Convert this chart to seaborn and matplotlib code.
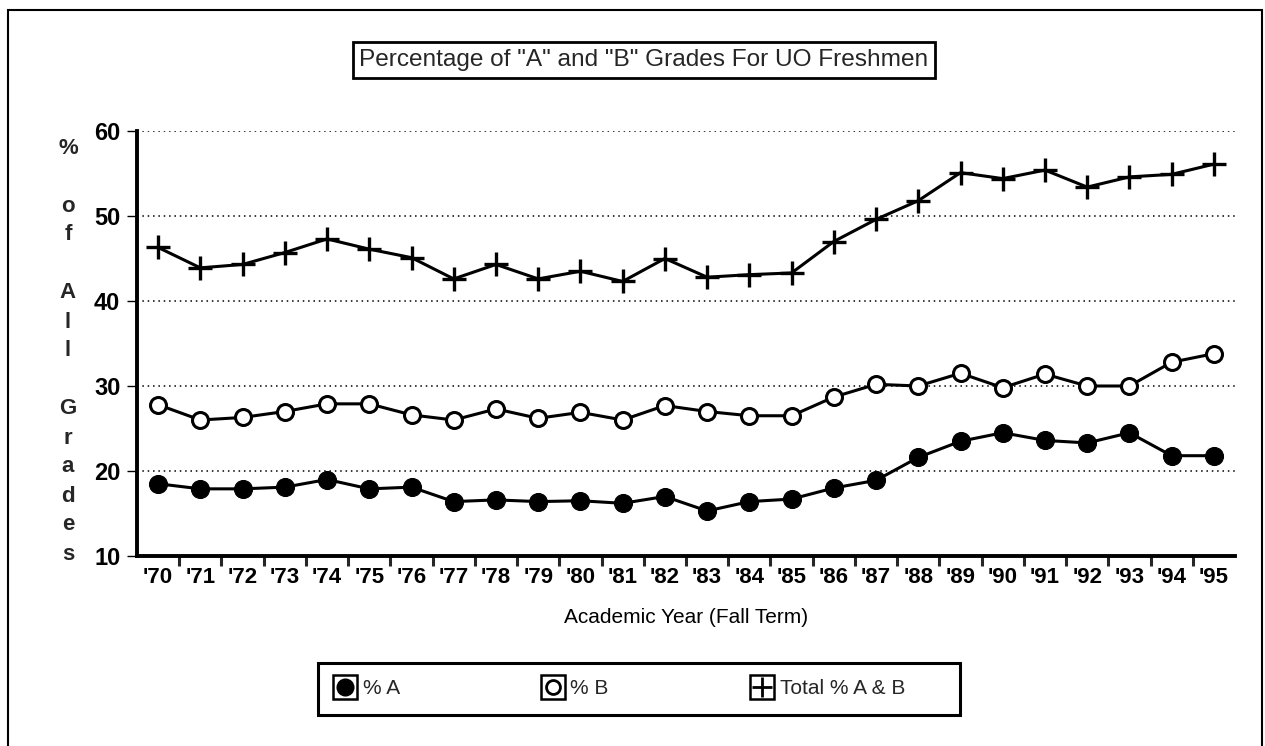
import pandas as pd
import seaborn as sns
import matplotlib.pyplot as plt
from matplotlib.lines import Line2D
from matplotlib.patches import Rectangle
from matplotlib.legend_handler import HandlerTuple

# dati
anni = ["'70", "'71", "'72", "'73", "'74", "'75", "'76", "'77", "'78", "'79",
        "'80", "'81", "'82", "'83", "'84", "'85", "'86", "'87", "'88", "'89",
        "'90", "'91", "'92", "'93", "'94", "'95"]
perc_a = [18.5, 17.9, 17.9, 18.1, 19.0, 17.9, 18.1, 16.4, 16.6, 16.4,
          16.5, 16.2, 17.0, 15.3, 16.4, 16.7, 18.0, 18.9, 21.6, 23.5,
          24.5, 23.6, 23.3, 24.5, 21.8, 21.8]
perc_b = [27.8, 26.0, 26.3, 27.0, 27.9, 27.9, 26.6, 26.0, 27.3, 26.2,
          26.9, 26.0, 27.7, 27.0, 26.5, 26.5, 28.7, 30.2, 30.0, 31.5,
          29.8, 31.4, 30.0, 30.0, 32.8, 33.8]
totale = [46.3, 43.9, 44.3, 45.7, 47.3, 46.1, 45.1, 42.6, 44.3, 42.6,
          43.5, 42.3, 45.0, 42.8, 43.1, 43.3, 47.0, 49.6, 51.8, 55.1,
          54.4, 55.4, 53.4, 54.6, 54.9, 56.1]

df = pd.DataFrame({'anno': anni, 'A': perc_a, 'B': perc_b, 'tot': totale})

sns.set_theme(style="white")
plt.rcParams['font.family'] = ['Liberation Sans', 'DejaVu Sans']

W, H = 1265, 746
fig = plt.figure(figsize=(W / 100, H / 100), dpi=100)
ax = fig.add_axes([137 / W, 1 - 556 / H, 1098 / W, 425 / H])

sns.lineplot(data=df, x='anno', y='A', sort=False, ax=ax, color='black', lw=2.2,
             marker='o', markersize=13, markerfacecolor='black', markeredgecolor='black')
sns.lineplot(data=df, x='anno', y='B', sort=False, ax=ax, color='black', lw=2.2,
             marker='o', markersize=11.5, markerfacecolor='white', markeredgecolor='black',
             markeredgewidth=2.2)
sns.lineplot(data=df, x='anno', y='tot', sort=False, ax=ax, color='black', lw=2.2,
             marker='+', markersize=17, markeredgewidth=2.4, markeredgecolor='black')

ax.set_ylim(10, 60)
ax.set_xlim(-0.5, len(anni) - 0.5)
ax.set_yticks([10, 20, 30, 40, 50, 60])
ax.set_xticks(range(len(anni)))
ax.set_xticklabels(anni)
ax.set_xticks([i + 0.5 for i in range(len(anni) - 1)], minor=True)

for y in [20, 30, 40, 50, 60]:
    ax.axhline(y, color='black', lw=1.1, ls=(0, (1, 2.5)), zorder=0)

for s in ['top', 'right']:
    ax.spines[s].set_visible(False)
for s in ['left', 'bottom']:
    ax.spines[s].set_linewidth(2.8)
    ax.spines[s].set_color('black')

ax.tick_params(axis='y', which='major', direction='out', length=7, width=1,
               left=True, labelsize=17, pad=5, colors='black')
ax.tick_params(axis='x', which='major', length=0, labelsize=16, pad=8, colors='black')
ax.tick_params(axis='x', which='minor', direction='out', length=7, width=2.2, bottom=True)
for t in ax.get_xticklabels() + ax.get_yticklabels():
    t.set_fontweight('bold')

ax.set_xlabel('Academic Year (Fall Term)', fontsize=15, labelpad=14, color='black')
ax.set_ylabel('')

# etichetta asse y verticale, una lettera per riga
fig.text(68 / W, 1 - 351 / H, '%\n\no\nf\n\nA\nl\nl\n\nG\nr\na\nd\ne\ns',
         ha='center', va='center', fontsize=16, fontweight='bold', linespacing=1.5)

# titolo in riquadro
fig.text(644 / W, 1 - 60 / H, 'Percentage of "A" and "B" Grades For UO Freshmen',
         ha='center', va='center', fontsize=17.6,
         bbox=dict(boxstyle='square,pad=0.28', facecolor='white',
                   edgecolor='black', linewidth=2))

# cornice esterna
fig.patches.append(Rectangle((8 / W, -0.02), 1254 / W, 1.02 - 10 / H, fill=False,
                             edgecolor='black', lw=1.5, transform=fig.transFigure))

# riquadro della legenda
fig.patches.append(Rectangle((318 / W, 1 - 715 / H), 642 / W, 52 / H, fill=False,
                             edgecolor='black', lw=2.2, transform=fig.transFigure))

# legenda con marcatori in quadratini
def voce(m, fc, ms):
    box = Line2D([], [], marker='s', markersize=17, markerfacecolor='white',
                 markeredgecolor='black', markeredgewidth=1.8, ls='none')
    mk = Line2D([], [], marker=m, markersize=ms, markerfacecolor=fc,
                markeredgecolor='black', markeredgewidth=2, ls='none')
    return (box, mk)

handles = [voce('o', 'black', 11), voce('o', 'white', 10), voce('+', 'black', 14)]
leg = fig.legend(handles, ['% A', '% B', 'Total % A & B'], loc='center left',
                 bbox_to_anchor=(324 / W, 1 - 689 / H), ncol=3, frameon=False,
                 fontsize=15, handler_map={tuple: HandlerTuple(ndivide=1)},
                 handlelength=1.0, handletextpad=0.35, columnspacing=6.85,
                 borderpad=0.0)

fig.savefig('out.png', dpi=100)
